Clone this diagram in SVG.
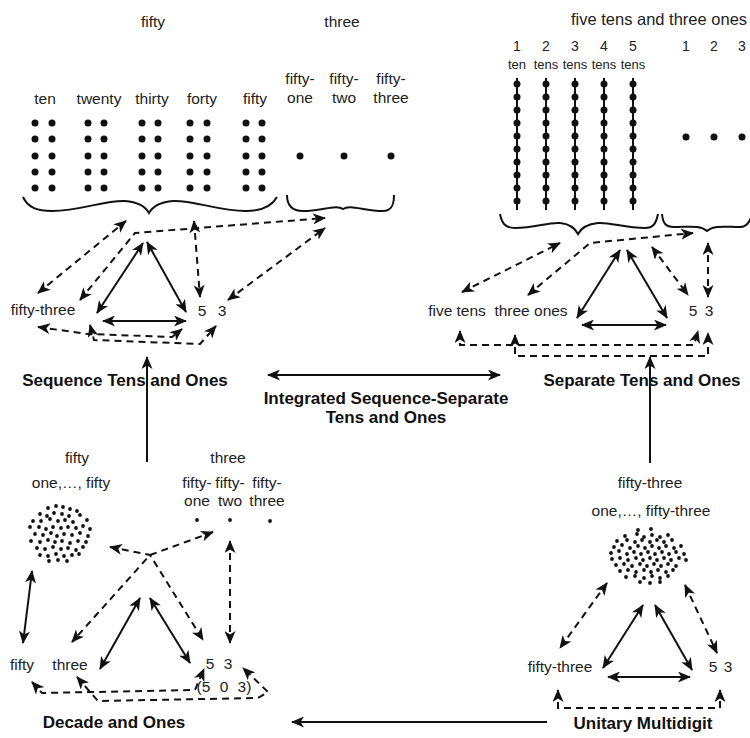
<svg xmlns="http://www.w3.org/2000/svg" width="750" height="738" viewBox="0 0 750 738">
<style>
.t{font-family:"Liberation Sans",Arial,Helvetica,sans-serif;font-size:15.5px;fill:#222;text-anchor:middle}
.sm{font-size:13px}
.n{font-size:14px}
.lg{font-size:16.5px}
.b{font-weight:bold;font-size:17px;fill:#111}
.s{stroke:#111;stroke-width:2;fill:none}
.d{stroke:#111;stroke-width:2;fill:none;stroke-dasharray:7 5}
.br{stroke:#111;stroke-width:2;fill:none}
.dot{fill:#111}
</style>
<defs>
<marker id="ah" viewBox="0 0 13 11" refX="12" refY="5.5" markerWidth="13" markerHeight="11" markerUnits="userSpaceOnUse" orient="auto-start-reverse"><path d="M0,0 L13,5.5 L0,11 L3.5,5.5 z" fill="#111"/></marker>
<circle id="bd" r="3.5" class="dot"/>
<circle id="sd" r="1.9" class="dot"/>
<g id="col">
<use href="#bd" y="0"/><use href="#bd" y="16"/><use href="#bd" y="33"/><use href="#bd" y="49"/><use href="#bd" y="65"/>
</g>
<g id="rod">
<line x1="0" y1="78" x2="0" y2="210" stroke="#111" stroke-width="2"/>
<use href="#bd" y="84"/><use href="#bd" y="97"/><use href="#bd" y="110"/><use href="#bd" y="123"/><use href="#bd" y="136"/><use href="#bd" y="149"/><use href="#bd" y="162"/><use href="#bd" y="175"/><use href="#bd" y="188"/><use href="#bd" y="201"/>
</g>
</defs>
<rect width="750" height="738" fill="#fff"/>

<g id="sequence-tens-ones">
<text class="t" x="153" y="27">fifty</text>
<text class="t" x="342" y="27">three</text>
<text class="t" x="45" y="104">ten</text>
<text class="t" x="99" y="104">twenty</text>
<text class="t" x="152" y="104">thirty</text>
<text class="t" x="202" y="104">forty</text>
<text class="t" x="255" y="104">fifty</text>
<text class="t" x="300" y="84">fifty-</text><text class="t" x="300" y="103">one</text>
<text class="t" x="344" y="84">fifty-</text><text class="t" x="344" y="103">two</text>
<text class="t" x="391" y="84">fifty-</text><text class="t" x="391" y="103">three</text>
<g transform="translate(0,123)">
<use href="#col" x="35"/><use href="#col" x="52"/>
<use href="#col" x="88"/><use href="#col" x="104"/>
<use href="#col" x="142"/><use href="#col" x="158"/>
<use href="#col" x="190"/><use href="#col" x="207"/>
<use href="#col" x="246"/><use href="#col" x="262"/>
</g>
<use href="#bd" x="300" y="156"/><use href="#bd" x="344" y="156"/><use href="#bd" x="391" y="156"/>
<path class="br" d="M23,197 C28,208 38,211 52,211 C80,211 105,200 125,201 C138,202 145,206 149,213 C153,206 160,202 173,201 C193,200 218,211 246,211 C262,211 272,206 277,197"/>
<path class="br" d="M287,195 C287,206 292,211 303,211 C322,211 336,204 343,209 C350,204 364,211 383,211 C391,211 394,206 394,195"/>
<text class="t" x="43" y="315">fifty-three</text>
<text class="t" x="202" y="316">5</text>
<text class="t" x="222" y="316">3</text>
<text class="t b" x="125" y="386">Sequence Tens and Ones</text>
</g>

<g id="separate-tens-ones">
<text class="t lg" x="659" y="25">five tens and three ones</text>
<text class="t n" x="517" y="51">1</text><text class="t n" x="546" y="51">2</text><text class="t n" x="575" y="51">3</text><text class="t n" x="604" y="51">4</text><text class="t n" x="633" y="51">5</text>
<text class="t n" x="686" y="51">1</text><text class="t n" x="714" y="51">2</text><text class="t n" x="742" y="51">3</text>
<text class="t sm" x="517" y="69">ten</text><text class="t sm" x="546" y="69">tens</text><text class="t sm" x="575" y="69">tens</text><text class="t sm" x="604" y="69">tens</text><text class="t sm" x="633" y="69">tens</text>
<use href="#rod" x="517"/><use href="#rod" x="546"/><use href="#rod" x="575"/><use href="#rod" x="604"/><use href="#rod" x="633"/>
<use href="#bd" x="686" y="137"/><use href="#bd" x="714" y="137"/><use href="#bd" x="742" y="137"/>
<path class="br" d="M500,214 C502,225 507,228 515,228 C535,228 548,222 560,223 C570,224 575,228 578,234 C581,228 588,224 598,223 C610,222 625,228 645,228 C653,228 656,224 658,214"/>
<path class="br" d="M662,214 C663,224 666,227 674,227 C690,227 700,225 707,231 C714,225 725,227 740,227 C747,227 750,222 752,214"/>
<text class="t" x="457" y="316">five tens</text>
<text class="t" x="531" y="316">three ones</text>
<text class="t" x="693" y="316">5</text>
<text class="t" x="709" y="316">3</text>
<text class="t b" x="642" y="386">Separate Tens and Ones</text>
</g>

<g id="integrated">
<text class="t b" x="386" y="404">Integrated Sequence-Separate</text>
<text class="t b" x="386" y="423">Tens and Ones</text>
</g>

<g id="decade-ones">
<text class="t" x="77" y="463">fifty</text>
<text class="t" x="71" y="488">one,…, fifty</text>
<text class="t" x="228" y="463">three</text>
<text class="t" x="197" y="488">fifty-</text><text class="t" x="197" y="506">one</text>
<text class="t" x="230" y="488">fifty-</text><text class="t" x="230" y="506">two</text>
<text class="t" x="267" y="488">fifty-</text><text class="t" x="267" y="506">three</text>
<use href="#sd" x="197" y="520"/><use href="#sd" x="230" y="520"/><use href="#sd" x="270" y="521"/>
<g>
<use href="#sd" x="48" y="508"/><use href="#sd" x="56" y="506"/><use href="#sd" x="63" y="507"/><use href="#sd" x="70" y="509"/><use href="#sd" x="77" y="511"/>
<use href="#sd" x="40" y="514"/><use href="#sd" x="47" y="516"/><use href="#sd" x="54" y="513"/><use href="#sd" x="62" y="514"/><use href="#sd" x="69" y="516"/><use href="#sd" x="80" y="515"/>
<use href="#sd" x="33" y="521"/><use href="#sd" x="41" y="521"/><use href="#sd" x="50" y="519"/><use href="#sd" x="58" y="521"/><use href="#sd" x="65" y="520"/><use href="#sd" x="73" y="522"/><use href="#sd" x="87" y="520"/>
<use href="#sd" x="30" y="527"/><use href="#sd" x="39" y="527"/><use href="#sd" x="46" y="529"/><use href="#sd" x="53" y="527"/><use href="#sd" x="61" y="528"/><use href="#sd" x="68" y="527"/><use href="#sd" x="76" y="528"/><use href="#sd" x="83" y="526"/><use href="#sd" x="90" y="529"/>
<use href="#sd" x="35" y="534"/><use href="#sd" x="43" y="535"/><use href="#sd" x="51" y="533"/><use href="#sd" x="57" y="536"/><use href="#sd" x="64" y="534"/><use href="#sd" x="72" y="535"/><use href="#sd" x="80" y="533"/><use href="#sd" x="88" y="536"/>
<use href="#sd" x="31" y="541"/><use href="#sd" x="40" y="542"/><use href="#sd" x="48" y="540"/><use href="#sd" x="55" y="542"/><use href="#sd" x="62" y="541"/><use href="#sd" x="70" y="543"/><use href="#sd" x="78" y="541"/><use href="#sd" x="86" y="542"/>
<use href="#sd" x="37" y="548"/><use href="#sd" x="45" y="549"/><use href="#sd" x="53" y="547"/><use href="#sd" x="61" y="549"/><use href="#sd" x="68" y="548"/><use href="#sd" x="76" y="550"/><use href="#sd" x="83" y="547"/>
<use href="#sd" x="40" y="555"/><use href="#sd" x="48" y="556"/><use href="#sd" x="56" y="554"/><use href="#sd" x="64" y="556"/><use href="#sd" x="72" y="555"/><use href="#sd" x="79" y="554"/>
<use href="#sd" x="49" y="561"/><use href="#sd" x="58" y="560"/><use href="#sd" x="67" y="561"/>
</g>
<text class="t" x="22" y="670">fifty</text>
<text class="t" x="70" y="670">three</text>
<text class="t" x="210" y="669">5</text>
<text class="t" x="228" y="669">3</text>
<text class="t" x="224" y="692" word-spacing="5">(5 0 3)</text>
<text class="t b" x="114" y="728">Decade and Ones</text>
</g>

<g id="unitary-multidigit">
<text class="t" x="650" y="488">fifty-three</text>
<text class="t" x="651" y="516">one,…, fifty-three</text>
<g>
<use href="#sd" x="638" y="530"/><use href="#sd" x="651" y="529"/>
<use href="#sd" x="625" y="536"/><use href="#sd" x="637" y="534"/><use href="#sd" x="644" y="537"/><use href="#sd" x="652" y="535"/><use href="#sd" x="660" y="537"/><use href="#sd" x="668" y="535"/>
<use href="#sd" x="617" y="541"/><use href="#sd" x="627" y="540"/><use href="#sd" x="635" y="542"/><use href="#sd" x="642" y="540"/><use href="#sd" x="650" y="542"/><use href="#sd" x="657" y="540"/><use href="#sd" x="664" y="542"/><use href="#sd" x="672" y="540"/>
<use href="#sd" x="614" y="547"/><use href="#sd" x="622" y="545"/><use href="#sd" x="630" y="548"/><use href="#sd" x="638" y="546"/><use href="#sd" x="645" y="548"/><use href="#sd" x="652" y="546"/><use href="#sd" x="659" y="548"/><use href="#sd" x="666" y="546"/><use href="#sd" x="674" y="548"/><use href="#sd" x="681" y="546"/>
<use href="#sd" x="611" y="553"/><use href="#sd" x="619" y="551"/><use href="#sd" x="627" y="554"/><use href="#sd" x="634" y="552"/><use href="#sd" x="641" y="554"/><use href="#sd" x="648" y="552"/><use href="#sd" x="655" y="554"/><use href="#sd" x="662" y="552"/><use href="#sd" x="669" y="554"/><use href="#sd" x="676" y="552"/><use href="#sd" x="684" y="554"/>
<use href="#sd" x="612" y="559"/><use href="#sd" x="620" y="558"/><use href="#sd" x="628" y="560"/><use href="#sd" x="636" y="558"/><use href="#sd" x="643" y="560"/><use href="#sd" x="650" y="558"/><use href="#sd" x="657" y="560"/><use href="#sd" x="664" y="558"/><use href="#sd" x="671" y="560"/><use href="#sd" x="679" y="558"/><use href="#sd" x="686" y="560"/>
<use href="#sd" x="616" y="565"/><use href="#sd" x="624" y="564"/><use href="#sd" x="632" y="566"/><use href="#sd" x="640" y="564"/><use href="#sd" x="647" y="566"/><use href="#sd" x="654" y="564"/><use href="#sd" x="661" y="566"/><use href="#sd" x="668" y="564"/><use href="#sd" x="676" y="566"/>
<use href="#sd" x="620" y="571"/><use href="#sd" x="628" y="570"/><use href="#sd" x="636" y="572"/><use href="#sd" x="644" y="570"/><use href="#sd" x="651" y="572"/><use href="#sd" x="658" y="570"/><use href="#sd" x="666" y="572"/><use href="#sd" x="673" y="570"/>
<use href="#sd" x="626" y="577"/><use href="#sd" x="635" y="576"/><use href="#sd" x="644" y="578"/><use href="#sd" x="652" y="576"/><use href="#sd" x="660" y="578"/><use href="#sd" x="668" y="576"/>
<use href="#sd" x="640" y="582"/><use href="#sd" x="650" y="583"/><use href="#sd" x="660" y="582"/>
</g>
<text class="t" x="560" y="672">fifty-three</text>
<text class="t" x="713" y="672">5</text>
<text class="t" x="728" y="672">3</text>
<text class="t b" x="643" y="729">Unitary Multidigit</text>
</g>

<g id="connectors" marker-start="url(#ah)" marker-end="url(#ah)">
<line class="s" x1="143" y1="243" x2="97" y2="313"/>
<line class="s" x1="147" y1="242" x2="186" y2="312"/>
<line class="s" x1="103" y1="321" x2="186" y2="321"/>
<line class="d" x1="38" y1="293" x2="126" y2="221"/>
<path class="d" d="M80,300 L135,233 L325,218"/>
<line class="d" x1="194" y1="221" x2="200" y2="297"/>
<line class="d" x1="228" y1="300" x2="325" y2="228"/>
<path class="d" d="M38,327 L88,334 L172,337 L182,329"/>
<path class="d" d="M90,325 L94,340 L200,344 L216,326"/>
<line class="s" x1="620" y1="250" x2="577" y2="318"/>
<line class="s" x1="627" y1="250" x2="667" y2="318"/>
<line class="s" x1="582" y1="325" x2="666" y2="325"/>
<line class="d" x1="462" y1="292" x2="560" y2="243"/>
<path class="d" d="M528,295 L590,243 L693,233"/>
<line class="d" x1="652" y1="247" x2="688" y2="295"/>
<line class="d" x1="708" y1="243" x2="708" y2="297"/>
<path class="d" d="M460,331 L460,345 L694,345 L698,331"/>
<path class="d" d="M515,335 L515,356 L708,356 L708,333"/>
<line class="s" x1="268" y1="375" x2="500" y2="375"/>
<line class="s" x1="32" y1="571" x2="23" y2="643"/>
<line class="s" x1="140" y1="598" x2="100" y2="669"/>
<line class="s" x1="150" y1="598" x2="190" y2="663"/>
<path class="d" d="M110,547 L150,555 L203,640"/>
<path class="d" d="M213,532 L150,555 L72,642"/>
<line class="d" x1="230" y1="541" x2="230" y2="643"/>
<path class="d" d="M32,682 L42,693 L195,690 L204,669"/>
<path class="d" d="M77,677 L98,701 L258,698 L268,692 L243,668"/>
<line class="s" x1="643" y1="605" x2="603" y2="668"/>
<line class="s" x1="655" y1="605" x2="692" y2="670"/>
<line class="s" x1="608" y1="677" x2="690" y2="677"/>
<line class="d" x1="607" y1="583" x2="560" y2="648"/>
<line class="d" x1="685" y1="585" x2="717" y2="653"/>
<path class="d" d="M558,690 L558,708 L720,708 L720,690"/>
</g>
<g id="transitions" marker-end="url(#ah)">
<line class="s" x1="147" y1="462" x2="147" y2="357"/>
<line class="s" x1="650" y1="463" x2="650" y2="357"/>
<line class="s" x1="547" y1="722" x2="292" y2="722"/>
</g>
</svg>
